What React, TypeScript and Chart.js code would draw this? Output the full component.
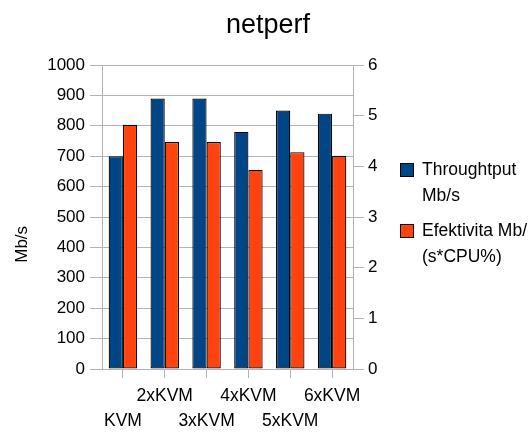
import React, { useEffect, useRef } from "react";
import { Chart, registerables } from "chart.js";

Chart.register(...registerables);

const categories = ["KVM", "2xKVM", "3xKVM", "4xKVM", "5xKVM", "6xKVM"];
const throughput = [700, 890, 890, 780, 850, 840];
const efektivita = [4.82, 4.48, 4.48, 3.93, 4.28, 4.21];
const seriesNames = ["Throughtput Mb/s", "Efektivita Mb/(s*CPU%)"];
const legendLines = [["Throughtput", "Mb/s"], ["Efektivita Mb/", "(s*CPU%)"]];
const seriesColors = ["#004586", "#ff420e"];
const chartTitle = "netperf";
const yTitle = "Mb/s";
const leftAxis = { min: 0, max: 1000, step: 100 };
const rightAxis = { min: 0, max: 6, step: 1 };

const FONT = "'Liberation Sans', Arial, sans-serif";
const GRID = "#b3b3b3";

const decorPlugin = {
  id: "decor",
  afterDraw(chart: any) {
    const { ctx, chartArea: ca } = chart;
    ctx.save();
    ctx.fillStyle = "#000";
    // title
    ctx.font = `27px ${FONT}`;
    ctx.textAlign = "center";
    ctx.textBaseline = "alphabetic";
    ctx.fillText(chartTitle, 268, 33);
    // y title
    ctx.save();
    ctx.font = `17px ${FONT}`;
    ctx.translate(22, ca.top + (ca.bottom - ca.top) * 0.59);
    ctx.rotate(-Math.PI / 2);
    ctx.textAlign = "center";
    ctx.textBaseline = "middle";
    ctx.fillText(yTitle, 0, 0);
    ctx.restore();
    // legend
    ctx.font = `17.5px ${FONT}`;
    ctx.textAlign = "left";
    ctx.textBaseline = "middle";
    chart.data.datasets.forEach((ds: any, i: number) => {
      const boxTop = ca.top + 98 + i * 61;
      const bx = ca.right + 47;
      ctx.fillStyle = ds.backgroundColor;
      ctx.fillRect(bx, boxTop, 14, 14);
      ctx.strokeStyle = "#000";
      ctx.lineWidth = 1;
      ctx.strokeRect(bx + 0.5, boxTop + 0.5, 13, 13);
      ctx.fillStyle = "#000";
      legendLines[i].forEach((line, j) => {
        ctx.fillText(line, ca.right + 69, boxTop + 7 + j * 26);
      });
    });
    ctx.restore();
  },
};

export default function App() {
  const ref = useRef<HTMLCanvasElement>(null);
  useEffect(() => {
    if (!ref.current) return;
    const chart = new Chart(ref.current, {
      type: "bar",
      data: {
        labels: categories,
        datasets: [
          {
            label: seriesNames[0],
            data: throughput,
            backgroundColor: seriesColors[0],
            borderColor: "#000",
            borderWidth: 1.2,
            borderSkipped: false,
            yAxisID: "y",
          },
          {
            label: seriesNames[1],
            data: efektivita,
            backgroundColor: seriesColors[1],
            borderColor: "#000",
            borderWidth: 1.2,
            borderSkipped: false,
            yAxisID: "y1",
          },
        ],
      },
      options: {
        responsive: false,
        animation: false,
        layout: { padding: { top: 65, right: 150, bottom: 0, left: 0 } },
        datasets: { bar: { categoryPercentage: 0.68, barPercentage: 1 } },
        plugins: { legend: { display: false }, title: { display: false }, tooltip: { enabled: false } },
        scales: {
          x: {
            grid: { drawOnChartArea: false, offset: false, color: GRID, tickLength: 9 },
            border: { color: GRID },
            ticks: {
              autoSkip: false,
              maxRotation: 0,
              padding: 5,
              color: "#000",
              font: { family: FONT, size: 17.5, lineHeight: 1.45 },
              callback: (_v: any, i: number) => (i % 2 === 0 ? ["", categories[i]] : [categories[i]]),
            },
            afterFit: (s: any) => {
              s.height = 63;
            },
          },
          y: {
            position: "left",
            min: leftAxis.min,
            max: leftAxis.max,
            grid: { color: GRID, tickLength: 12 },
            border: { color: GRID },
            ticks: {
              stepSize: leftAxis.step,
              padding: 5,
              color: "#000",
              font: { family: FONT, size: 17 },
              callback: (v: any) => String(v),
            },
            afterFit: (s: any) => {
              s.width = 102;
            },
          },
          y1: {
            position: "right",
            min: rightAxis.min,
            max: rightAxis.max,
            grid: { drawOnChartArea: false, color: GRID, tickLength: 11 },
            border: { color: GRID },
            ticks: {
              stepSize: rightAxis.step,
              padding: 4,
              color: "#000",
              font: { family: FONT, size: 17 },
              callback: (v: any) => String(v),
            },
            afterFit: (s: any) => {
              s.width = 25;
            },
          },
        },
      },
      plugins: [decorPlugin],
    });
    return () => chart.destroy();
  }, []);
  return (
    <div style={{ position: "absolute", left: 0, top: 0, width: 528, height: 432 }}>
      <canvas ref={ref} width={528} height={432} style={{ display: "block" }} />
    </div>
  );
}
